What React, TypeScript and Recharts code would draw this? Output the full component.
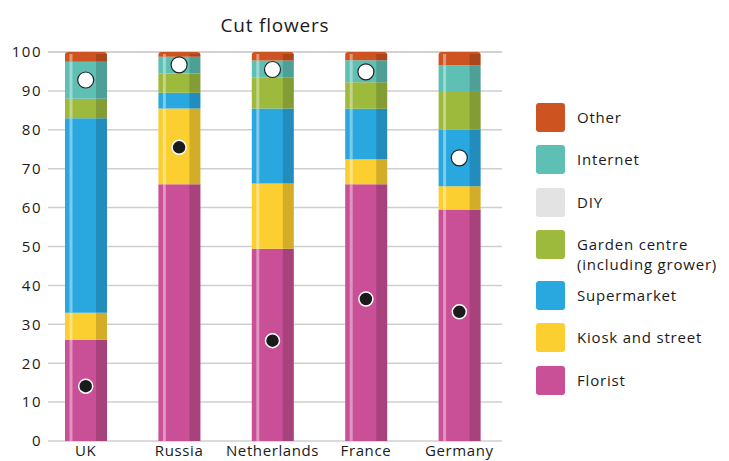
import React from "react";
import { Bar, CartesianGrid, ComposedChart, Line, XAxis, YAxis } from "recharts";

const countries = ["UK", "Russia", "Netherlands", "France", "Germany"];
const florist = [26, 66, 49.4, 66, 59.5];
const kiosk = [7, 19.5, 16.8, 6.4, 6];
const supermarket = [50, 4, 19.3, 13, 14.5];
const garden = [5, 5, 7.9, 6.8, 10];
const diy = [0, 0, 0, 0, 0];
const internet = [9.5, 4.3, 4.4, 5.7, 6.6];
const other = [2.5, 1.2, 2.2, 2.1, 3.4];
const whiteDots = [92.8, 96.7, 95.5, 94.9, 72.8];
const blackDots = [14.1, 75.5, 25.8, 36.5, 33.2];
const yTicks = [0, 10, 20, 30, 40, 50, 60, 70, 80, 90, 100];

// bottom to top
const series = [
  { key: "florist", name: "Florist", values: florist, color: "#c94f96" },
  { key: "kiosk", name: "Kiosk and street", values: kiosk, color: "#fccf30" },
  { key: "supermarket", name: "Supermarket", values: supermarket, color: "#29a8e0" },
  { key: "garden", name: "Garden centre\n(including grower)", values: garden, color: "#9dba3d" },
  { key: "diy", name: "DIY", values: diy, color: "#e3e3e3" },
  { key: "internet", name: "Internet", values: internet, color: "#5ebfb4" },
  { key: "other", name: "Other", values: other, color: "#cd5320" },
];

const data = countries.map((country, i) => {
  const row: Record<string, number | string> = { country, white: whiteDots[i], black: blackDots[i] };
  series.forEach((s) => (row[s.key] = s.values[i]));
  return row;
});

const font = "'Open Sans', sans-serif";
const ink = "#1a1a1a";

function makeShape(top: boolean) {
  return (props: any) => {
    const { x, y, width, height, fill } = props;
    if (!height || height <= 0) return <g />;
    const r = top ? 3 : 0;
    const d = `M${x},${y + height} L${x},${y + r} Q${x},${y} ${x + r},${y} L${x + width - r},${y} Q${x + width},${y} ${x + width},${y + r} L${x + width},${y + height} Z`;
    const oy = top ? y + 2 : y;
    const oh = top ? height - 2 : height;
    return (
      <g>
        <path d={d} fill={fill} />
        <rect x={x + 4.5} y={oy} width={3} height={Math.max(oh, 0)} fill="#fff" fillOpacity={0.4} />
        <rect x={x + width - 11} y={oy} width={11} height={Math.max(oh, 0)} fill="#000" fillOpacity={0.16} />
      </g>
    );
  };
}

function LegendBox() {
  const items = [...series].reverse();
  return (
    <div style={{ position: "absolute", left: 536, top: 103, fontFamily: font, fontSize: 15, letterSpacing: 0.8, color: ink }}>
      {items.map((s) => {
        const lines = s.name.split("\n");
        return (
          <div key={s.key} style={{ display: "flex", alignItems: "flex-start", height: 29 + (lines.length - 1) * 9, marginBottom: 13.3 }}>
            <div style={{ width: 29, height: 29, background: s.color, borderRadius: 3, flexShrink: 0 }} />
            <div style={{ marginLeft: 12, paddingTop: 4, lineHeight: "20px", whiteSpace: "nowrap" }}>
              {lines.map((l) => (
                <div key={l}>{l}</div>
              ))}
            </div>
          </div>
        );
      })}
    </div>
  );
}

export default function App() {
  return (
    <div style={{ position: "absolute", left: 0, top: 0, width: 729, height: 461, background: "#fff", overflow: "hidden" }}>
      <div style={{ position: "absolute", left: 48, width: 454, top: 12, textAlign: "center", fontFamily: font, fontSize: 19, fontWeight: 500, letterSpacing: 0.8, color: ink }}>
        Cut flowers
      </div>
      <ComposedChart width={729} height={461} data={data} margin={{ top: 52, right: 227, bottom: 0, left: 0 }} barCategoryGap={0}>
        <CartesianGrid vertical={false} stroke="#cfcfcf" strokeWidth={1.5} />
        <XAxis
          dataKey="country"
          height={20}
          axisLine={false}
          tickLine={false}
          tickSize={0}
          tickMargin={4}
          padding={{ left: -9, right: -4 }}
          interval={0}
          tick={{ fontFamily: font, fontSize: 15, fill: ink, letterSpacing: 0.6 }}
        />
        <YAxis
          domain={[0, 100]}
          ticks={yTicks}
          width={48}
          axisLine={false}
          tickLine={false}
          tickMargin={0}
          tick={{ fontFamily: font, fontSize: 15, fill: ink, letterSpacing: 1.5 }}
        />
        {series.map((s, i) => (
          <Bar
            key={s.key}
            dataKey={s.key}
            name={s.name}
            stackId="a"
            fill={s.color}
            barSize={42}
            isAnimationActive={false}
            shape={makeShape(i === series.length - 1)}
          />
        ))}
        <Line
          dataKey="white"
          stroke="none"
          isAnimationActive={false}
          dot={{ r: 8, fill: "#fff", stroke: "#222", strokeWidth: 1.2 }}
          activeDot={false}
        />
        <Line
          dataKey="black"
          stroke="none"
          isAnimationActive={false}
          dot={{ r: 7, fill: "#1b1b1b", stroke: "#fff", strokeWidth: 1.5 }}
          activeDot={false}
        />
      </ComposedChart>
      <LegendBox />
    </div>
  );
}
